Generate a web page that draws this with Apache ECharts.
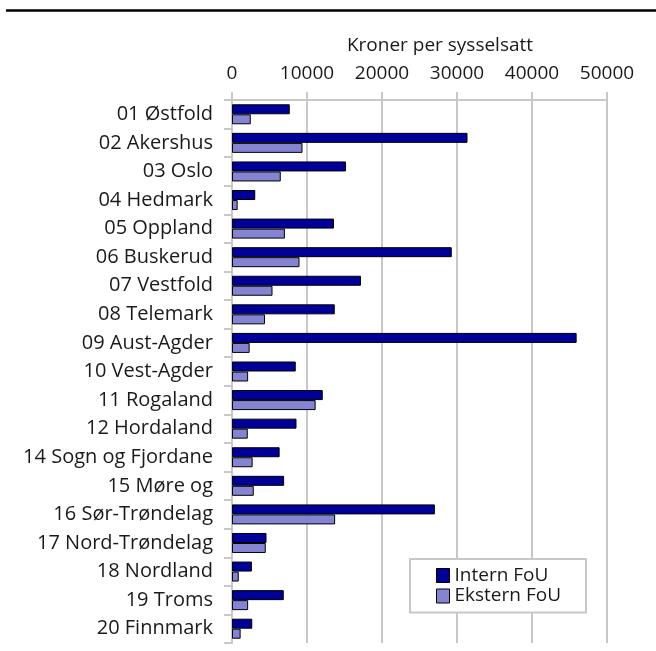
<!DOCTYPE html>
<html>
<head>
<meta charset="utf-8">
<script src="https://cdn.jsdelivr.net/npm/echarts@6/dist/echarts.min.js"></script>
<style>
  html, body { margin: 0; padding: 0; background: #ffffff; }
  #chart { width: 656px; height: 651px; }
</style>
</head>
<body>
<div id="chart"></div>
<script>
// Fylker (counties), top to bottom
const counties = [
  '01 Østfold', '02 Akershus', '03 Oslo', '04 Hedmark', '05 Oppland',
  '06 Buskerud', '07 Vestfold', '08 Telemark', '09 Aust-Agder', '10 Vest-Agder',
  '11 Rogaland', '12 Hordaland', '14 Sogn og Fjordane', '15 Møre og',
  '16 Sør-Trøndelag', '17 Nord-Trøndelag', '18 Nordland', '19 Troms', '20 Finnmark'
];

// Kroner per sysselsatt
const internFoU = [
  7700, 31400, 15200, 3100, 13600,
  29300, 17200, 13700, 45950, 8500,
  12100, 8600, 6350, 6950,
  27050, 4600, 2650, 6900, 2700
];
const eksternFoU = [
  2500, 9400, 6500, 750, 7050,
  9000, 5400, 4400, 2350, 2150,
  11150, 2100, 2750, 2900,
  13750, 4500, 900, 2150, 1150
];

const xTicks = [0, 10000, 20000, 30000, 40000, 50000];

const gridGray = '#c8c8c8';
const fontFamily = '"Open Sans", "Noto Sans", sans-serif';

const chart = echarts.init(document.getElementById('chart'), null, { renderer: 'canvas' });

chart.setOption({
  backgroundColor: '#ffffff',
  animation: false,
  textStyle: { fontFamily: fontFamily, color: '#1a1a1a' },
  graphic: [
    {
      type: 'line',
      shape: { x1: 6, y1: 10.5, x2: 656, y2: 10.5 },
      style: { stroke: '#000000', lineWidth: 2.5 }
    }
  ],
  grid: { left: 232, right: 49, top: 100, bottom: 8, containLabel: false },
  legend: {
    orient: 'vertical',
    left: 410,
    top: 559,
    data: ['Intern FoU', 'Ekstern FoU'],
    icon: 'rect',
    itemWidth: 13,
    itemHeight: 14,
    itemGap: 1.5,
    padding: [7, 25, 7, 26],
    borderColor: gridGray,
    borderWidth: 2,
    backgroundColor: '#ffffff',
    textStyle: { fontFamily: fontFamily, fontSize: 19, color: '#1a1a1a', padding: [0, 0, 0, 0] },
    itemStyle: { borderColor: '#000000', borderWidth: 1 }
  },
  xAxis: {
    type: 'value',
    position: 'top',
    min: xTicks[0],
    max: xTicks[xTicks.length - 1],
    interval: xTicks[1] - xTicks[0],
    name: 'Kroner per sysselsatt',
    nameLocation: 'middle',
    nameGap: 45,
    nameTextStyle: { fontFamily: fontFamily, fontSize: 19, color: '#1a1a1a', padding: [0, 0, 0, 41] },
    axisLine: { show: true, lineStyle: { color: gridGray, width: 2 } },
    axisTick: { show: true, inside: false, length: 8, lineStyle: { color: gridGray, width: 2 } },
    axisLabel: {
      margin: 17,
      fontFamily: fontFamily,
      fontSize: 19,
      color: '#1a1a1a',
      formatter: function (v) { return String(v); }
    },
    splitLine: { show: true, lineStyle: { color: gridGray, width: 2 } }
  },
  yAxis: {
    type: 'category',
    inverse: true,
    data: counties,
    axisLine: { show: true, lineStyle: { color: gridGray, width: 2 } },
    axisTick: { show: true, inside: false, length: 8, lineStyle: { color: gridGray, width: 2 } },
    axisLabel: {
      margin: 19,
      fontFamily: fontFamily,
      fontSize: 20,
      color: '#1a1a1a'
    },
    splitLine: { show: false }
  },
  series: [
    {
      name: 'Intern FoU',
      type: 'bar',
      data: internFoU,
      barWidth: 10,
      barGap: '0%',
      itemStyle: { color: '#000099', borderColor: '#000000', borderWidth: 1 }
    },
    {
      name: 'Ekstern FoU',
      type: 'bar',
      data: eksternFoU,
      barWidth: 10,
      barGap: '0%',
      itemStyle: { color: '#8484d2', borderColor: '#000000', borderWidth: 1 }
    }
  ]
});
</script>
</body>
</html>
